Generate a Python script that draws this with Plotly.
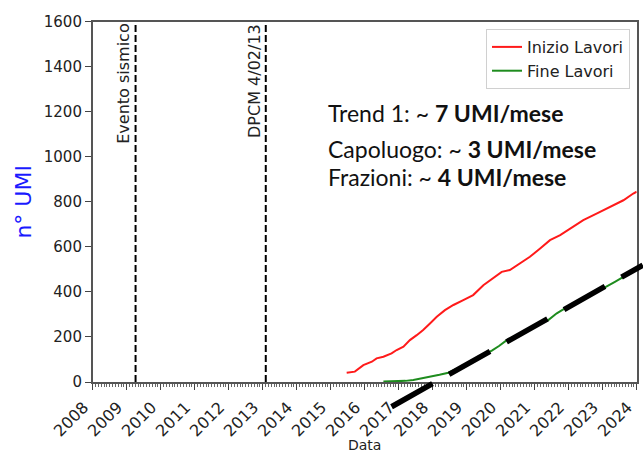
import plotly.graph_objects as go

# ---------------- data ----------------
inizio_x = [2015.47, 2015.71, 2015.96, 2016.21, 2016.35, 2016.55, 2016.79, 2016.94,
            2017.14, 2017.33, 2017.53, 2017.72, 2017.92, 2018.12, 2018.36, 2018.61,
            2018.90, 2019.19, 2019.49, 2019.78, 2020.03, 2020.27, 2020.57, 2020.86,
            2021.16, 2021.45, 2021.75, 2022.04, 2022.43, 2022.82, 2023.21, 2023.61,
            2023.90, 2024.00]
inizio_y = [41, 46, 75, 90, 105, 112, 127, 142, 157, 186, 208, 231, 260, 290, 319, 342,
            364, 386, 430, 460, 489, 497, 527, 556, 593, 630, 652, 682, 719, 748, 778, 807,
            837, 845]

fine_x = [2016.55, 2016.90, 2017.20, 2017.43, 2017.70, 2017.92, 2018.20, 2018.46,
          2018.80, 2019.10, 2019.40, 2019.74, 2019.95, 2020.18, 2020.50, 2020.80,
          2021.10, 2021.40, 2021.65, 2021.89, 2022.20, 2022.50, 2022.80, 2023.12,
          2023.36, 2023.61, 2023.85, 2024.00]
fine_y = [2, 3, 5, 9, 16, 24, 32, 41, 65, 90, 112, 139, 160, 186, 210, 232,
          254, 275, 305, 327, 350, 372, 398, 423, 445, 467, 490, 510]

trend_x = [2016.79, 2024.18]
trend_y = [-110, 519]

event_x = [2009.26, 2013.09]
event_labels = ["Evento sismico", "DPCM 4/02/13"]

trend_lines = [
    ("Trend 1: ~ ", "7 UMI/mese"),
    ("Capoluogo: ~ ", "3 UMI/mese"),
    ("Frazioni: ~ ", "4 UMI/mese"),
]

year_ticks = list(range(2008, 2025))

# ---------------- layout geometry ----------------
W, H = 643, 453
x0_px, x1_px = 92.7, 636.7
ytop_px, ybot_px = 21.7, 382.0
xr = [2008, 2024]
yr = [0, 1600]

xd = [x0_px / W, x1_px / W]
yd = [1 - ybot_px / H, 1 - ytop_px / H]

# overlay subplot spanning the whole figure with identical scale (for unclipped trend line)
xu = (xr[1] - xr[0]) / (xd[1] - xd[0])
yu = (yr[1] - yr[0]) / (yd[1] - yd[0])
x2r = [xr[0] - xd[0] * xu, xr[1] + (1 - xd[1]) * xu]
y2r = [yr[0] - yd[0] * yu, yr[1] + (1 - yd[1]) * yu]

fig = go.Figure()

# vertical event lines
for ex in event_x:
    fig.add_trace(go.Scatter(x=[ex, ex], y=yr, mode="lines",
                             line=dict(color="black", width=2, dash="7px,3px"),
                             showlegend=False, hoverinfo="skip"))

fig.add_trace(go.Scatter(x=inizio_x, y=inizio_y, mode="lines", name="Inizio Lavori",
                         line=dict(color="#ff1a1a", width=2)))
fig.add_trace(go.Scatter(x=fine_x, y=fine_y, mode="lines", name="Fine Lavori",
                         line=dict(color="#1e8c1e", width=2)))

fig.add_trace(go.Scatter(x=trend_x, y=trend_y, mode="lines", xaxis="x2", yaxis="y2",
                         line=dict(color="black", width=5.5, dash="47px,19px"),
                         showlegend=False, hoverinfo="skip"))

annotations = []
for ex, lab in zip(event_x, event_labels):
    annotations.append(dict(x=ex, y=yr[1], xref="x", yref="y", text=lab,
                            textangle=-90, showarrow=False, xanchor="right",
                            yanchor="top", xshift=0,
                            font=dict(family="DejaVu Sans", size=16, color="#222")))

trend_y_px = [113, 149, 177]
for (a, b), ypx in zip(trend_lines, trend_y_px):
    annotations.append(dict(x=326 / W, y=1 - ypx / H, xref="paper", yref="paper",
                            text=f"{a}<b>{b}</b>", showarrow=False,
                            xanchor="left", yanchor="middle",
                            font=dict(family="Lato", size=23, color="#111")))

fig.update_layout(
    width=W, height=H,
    margin=dict(l=0, r=0, t=0, b=0),
    paper_bgcolor="white",
    plot_bgcolor="rgba(0,0,0,0)",
    font=dict(family="DejaVu Sans", color="#222"),
    xaxis=dict(domain=xd, range=[xr[0] - 0.001, xr[1] + 0.001], tickmode="array",
               tickvals=year_ticks,
               ticktext=[str(y) for y in year_ticks], tickangle=-45,
               ticklabeloverflow="allow", ticklabelshift=-9, ticklabelstandoff=2,
               ticks="outside", ticklen=6, tickwidth=1.2, tickcolor="#444",
               minor=dict(dtick=1 / 12, ticks="outside", ticklen=3, tickcolor="#666",
                          tickwidth=0.8),
               showline=True, linecolor="#555", linewidth=1.5, mirror=True,
               showgrid=False, zeroline=False, automargin=False,
               tickfont=dict(size=16, color="#222"),
               title=dict(text="Data", font=dict(size=14, color="#222"), standoff=6)),
    yaxis=dict(domain=yd, range=yr, dtick=200, ticks="outside", ticklen=6,
               tickwidth=1.2, tickcolor="#444",
               showline=True, linecolor="#555", linewidth=1.5, mirror=True,
               showgrid=False, zeroline=False, automargin=False,
               tickfont=dict(size=15, color="#222"),
               title=dict(text="n° UMI", font=dict(size=22, color="#1a1aff"), standoff=6)),
    xaxis2=dict(domain=[0, 1], range=x2r, visible=False, anchor="y2", fixedrange=True),
    yaxis2=dict(domain=[0, 1], range=y2r, visible=False, anchor="x2", fixedrange=True),
    legend=dict(x=630 / W, y=1 - 29 / H, xanchor="right", yanchor="top",
                bgcolor="white", bordercolor="#d0d0d0", borderwidth=1,
                font=dict(family="DejaVu Sans", size=16, color="#222"),
                tracegroupgap=0),
    annotations=annotations,
    showlegend=True,
)

fig.write_html("out.html")
